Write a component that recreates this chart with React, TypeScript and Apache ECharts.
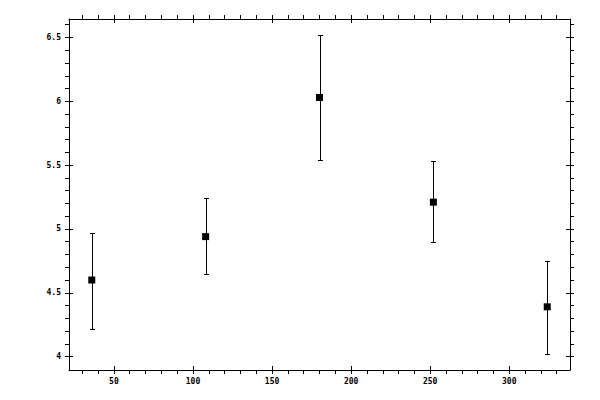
import React, { useEffect, useRef } from "react";
import * as echarts from "echarts";

const xs = [36, 108, 180, 252, 324];
const means = [4.6, 4.94, 6.03, 5.21, 4.39];
const lows = [4.22, 4.65, 5.54, 4.9, 4.02];
const highs = [4.97, 5.24, 6.52, 5.53, 4.75];
const xMajor = [50, 100, 150, 200, 250, 300];
const yMajor = [4, 4.5, 5, 5.5, 6, 6.5];
const xMinorStep = 10;
const yMinorStep = 0.1;

function padRange(lo: number, hi: number) {
  const p = (hi - lo) * 0.05;
  return [lo - p, hi + p];
}

function minorTicks(min: number, max: number, step: number, majors: number[]) {
  const out: number[] = [];
  const span = max - min;
  const start = Math.ceil(min / step - 1e-9);
  const end = Math.floor(max / step + 1e-9);
  for (let k = start; k <= end; k++) {
    const v = +(k * step).toFixed(6);
    if (v - min < span * 0.01 || max - v < span * 0.01) continue;
    if (majors.some((m) => Math.abs(m - v) < step / 10)) continue;
    out.push(v);
  }
  return out;
}

export default function App() {
  const ref = useRef<HTMLDivElement>(null);
  useEffect(() => {
    if (!ref.current) return;
    const chart = echarts.init(ref.current, undefined, { renderer: "svg" });
    const [xMin, xMax] = padRange(Math.min(...xs), Math.max(...xs));
    const [yMin, yMax] = padRange(Math.min(...lows), Math.max(...highs));
    const xMinor = minorTicks(xMin, xMax, xMinorStep, xMajor);
    const yMinor = minorTicks(yMin, yMax, yMinorStep, yMajor);
    const line = { lineStyle: { color: "#000", width: 1 } };
    const label = {
      color: "#000",
      fontFamily: "DejaVu Sans Mono",
      fontSize: 8,
      fontWeight: "bold",
    };
    const mkAxis = (
      position: string,
      min: number,
      max: number,
      ticks: number[],
      inside: boolean,
      showLine: boolean,
      showLabel: boolean,
      margin: number
    ) => ({
      type: "value",
      position,
      min,
      max,
      offset: 0,
      axisLine: { show: showLine, onZero: false, ...line },
      axisTick: {
        show: true,
        inside,
        length: 4,
        customValues: ticks,
        lineStyle: { color: "#000", width: 1 },
      },
      axisLabel: showLabel
        ? { show: true, customValues: ticks, margin, ...label }
        : { show: false },
      splitLine: { show: false },
    });
    const xAxes = [
      mkAxis("bottom", xMin, xMax, xMajor, false, true, true, 7),
      mkAxis("bottom", xMin, xMax, xMajor, true, false, false, 0),
      mkAxis("bottom", xMin, xMax, xMinor, false, false, false, 0),
      mkAxis("top", xMin, xMax, xMajor, false, true, false, 0),
      mkAxis("top", xMin, xMax, xMajor, true, false, false, 0),
      mkAxis("top", xMin, xMax, xMinor, false, false, false, 0),
    ];
    const yAxes = [
      mkAxis("left", yMin, yMax, yMajor, false, true, true, 8),
      mkAxis("left", yMin, yMax, yMajor, true, false, false, 0),
      mkAxis("left", yMin, yMax, yMinor, false, false, false, 0),
      mkAxis("right", yMin, yMax, yMajor, false, true, false, 0),
      mkAxis("right", yMin, yMax, yMajor, true, false, false, 0),
      mkAxis("right", yMin, yMax, yMinor, false, false, false, 0),
    ];
    chart.setOption({
      animation: false,
      backgroundColor: "#fff",
      grid: {
        left: 69,
        right: 30,
        top: 19,
        bottom: 30,
        containLabel: false,
        outerBoundsMode: "none",
      },
      xAxis: xAxes,
      yAxis: yAxes,
      series: [
        {
          type: "custom",
          xAxisIndex: 0,
          yAxisIndex: 0,
          data: xs.map((x, i) => [x, lows[i], highs[i]]),
          encode: { x: 0, y: [1, 2] },
          renderItem: (params: any, api: any) => {
            const x = api.value(0);
            const pLo = api.coord([x, api.value(1)]);
            const pHi = api.coord([x, api.value(2)]);
            const cx = Math.round(pLo[0]) + 0.5;
            const yLo = Math.round(pLo[1]) + 0.5;
            const yHi = Math.round(pHi[1]) + 0.5;
            const hw = 2.5;
            const st = { stroke: "#000", lineWidth: 1 };
            return {
              type: "group",
              children: [
                { type: "line", shape: { x1: cx, y1: yLo, x2: cx, y2: yHi }, style: st },
                { type: "line", shape: { x1: cx - hw, y1: yLo, x2: cx + hw, y2: yLo }, style: st },
                { type: "line", shape: { x1: cx - hw, y1: yHi, x2: cx + hw, y2: yHi }, style: st },
              ],
            };
          },
          z: 2,
        },
        {
          type: "scatter",
          xAxisIndex: 0,
          yAxisIndex: 0,
          data: xs.map((x, i) => [x, means[i]]),
          symbol: "rect",
          symbolSize: 7,
          itemStyle: { color: "#000", opacity: 1 },
          z: 3,
        },
      ],
    });
    return () => chart.dispose();
  }, []);
  return (
    <div
      ref={ref}
      style={{ position: "absolute", left: 0, top: 0, width: 600, height: 400, background: "#fff" }}
    />
  );
}
